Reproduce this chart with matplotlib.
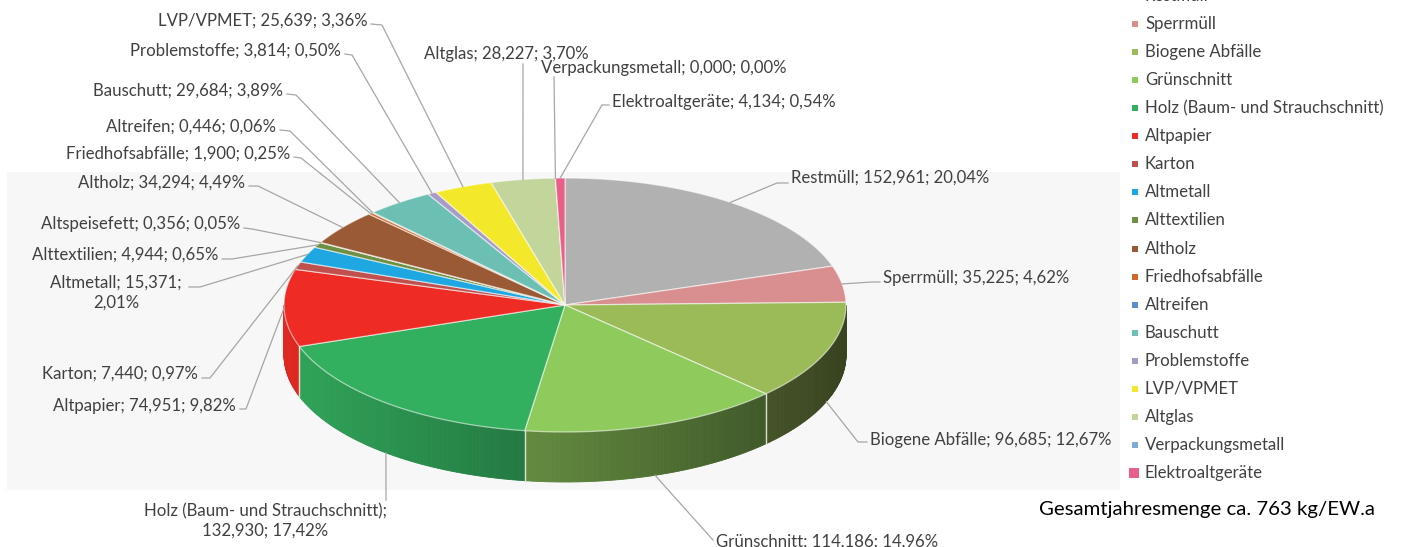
import numpy as np
import matplotlib
matplotlib.use("Agg")
import matplotlib.pyplot as plt
from matplotlib.patches import Polygon, Rectangle
import matplotlib.colors as mcolors

# ---------------- data ----------------
categories = ["Restmüll", "Sperrmüll", "Biogene Abfälle", "Grünschnitt",
              "Holz (Baum- und Strauchschnitt)", "Altpapier", "Karton", "Altmetall",
              "Alttextilien", "Altspeisefett", "Altholz", "Friedhofsabfälle", "Altreifen",
              "Bauschutt", "Problemstoffe", "LVP/VPMET", "Altglas", "Verpackungsmetall",
              "Elektroaltgeräte"]
values = [152.961, 35.225, 96.685, 114.186, 132.930, 74.951, 7.440, 15.371,
          4.944, 0.356, 34.294, 1.900, 0.446, 29.684, 3.814, 25.639, 28.227,
          0.000, 4.134]
colors = ["#b1b1b1", "#d98f8f", "#9bbb59", "#8fca5c", "#33b05f", "#ee2b24",
          "#c0504d", "#1ea7e1", "#6f8f45", "#c9b458", "#9a5a35", "#d2692b",
          "#5b8fc7", "#6cc0b3", "#a89bc8", "#f3e92a", "#c2d59b", "#7fabd8",
          "#e8608a"]
legend_categories = ["Restmüll", "Sperrmüll", "Biogene Abfälle", "Grünschnitt",
                     "Holz (Baum- und Strauchschnitt)", "Altpapier", "Karton",
                     "Altmetall", "Alttextilien", "Altholz", "Friedhofsabfälle",
                     "Altreifen", "Bauschutt", "Problemstoffe", "LVP/VPMET",
                     "Altglas", "Verpackungsmetall", "Elektroaltgeräte"]
note_text = "Gesamtjahresmenge ca. 763 kg/EW.a"

# ---------------- layout ----------------
FONT = "Lato"
FS = 12.1
TXT = "#404040"
LINE = "#a6a6a6"
CX, CY, RX, RY, DEPTH = 565, 305, 281, 127, 50

# label layout: (x, y, ha, leader start, leader elbow)
label_layout = {
    "Restmüll": (791, 178, "left", (788, 183), (777, 183)),
    "Sperrmüll": (883, 278, "left", (880, 282), (872, 282)),
    "Biogene Abfälle": (870, 440, "left", (867, 442), (858, 442)),
    "Grünschnitt": (716, 542, "left", (713, 540), (713, 540)),
    "Holz (Baum- und Strauchschnitt)": (265, 511, "center2", (386, 500), (386, 500)),
    "Altpapier": (236, 406, "right", (240, 409), (246, 409)),
    "Karton": (198, 374, "right", (202, 378), (210, 378)),
    "Altmetall": (116, 283, "center1", (189, 287), (200, 287)),
    "Alttextilien": (218, 255, "right", (222, 259), (232, 259)),
    "Altspeisefett": (240, 224, "right", (244, 228), (252, 229)),
    "Altholz": (245, 183, "right", (249, 186), (258, 186)),
    "Friedhofsabfälle": (290, 154, "right", (294, 157), (301, 158)),
    "Altreifen": (276, 127, "right", (280, 130), (290, 131)),
    "Bauschutt": (283, 91, "right", (287, 94), (296, 95)),
    "Problemstoffe": (341, 51, "right", (345, 54), (352, 55)),
    "LVP/VPMET": (368, 21, "right", (371, 24), (382, 25)),
    "Altglas": (506, 54, "center", (523, 64), (523, 64)),
    "Verpackungsmetall": (664, 68, "center", (554, 77), (554, 77)),
    "Elektroaltgeräte": (612, 102, "left", (609, 105), (602, 105)),
}

fig = plt.figure(figsize=(14.02, 5.47), dpi=100)
ax = fig.add_axes([0, 0, 1, 1])
ax.set_xlim(0, 1402)
ax.set_ylim(547, 0)
ax.axis("off")

# plot-area background
ax.add_patch(Rectangle((7, 172), 1113, 318, facecolor="#f7f7f7", edgecolor="none", zorder=0))

total = sum(values)
fracs = [v / total for v in values]


def ell(theta_deg, dy=0.0):
    t = np.radians(theta_deg)
    return CX + RX * np.cos(t), CY - RY * np.sin(t) + dy


def shade(theta):
    phi = np.radians(theta + 180.0)
    return 0.36 + 0.58 * (1 + np.cos(phi)) / 2


# angles (clockwise from 12 o'clock)
starts, ends = [], []
a = 90.0
for f in fracs:
    starts.append(a)
    a -= 360.0 * f
    ends.append(a)

# side walls (front part: theta in [-180, 0])
for s, e, c in zip(starts, ends, colors):
    lo, hi = max(e, -180.0), min(s, 0.0)
    if hi <= lo:
        continue
    n = max(2, int((hi - lo) * 2))
    ts = np.linspace(hi, lo, n + 1)
    base = np.array(mcolors.to_rgb(c))
    for t1, t2 in zip(ts[:-1], ts[1:]):
        x1, y1 = ell(t1)
        x2, y2 = ell(t2)
        col = np.clip(base * shade((t1 + t2) / 2), 0, 1)
        ax.add_patch(Polygon([(x1, y1), (x2, y2), (x2, y2 + DEPTH), (x1, y1 + DEPTH)],
                             closed=True, facecolor=col, edgecolor=col, linewidth=0.6, zorder=2))
    for t in (s, e):
        if -180 < t < 0:
            x, y = ell(t)
            ax.plot([x, x], [y, y + DEPTH], color="#dfe8d8", lw=0.9, alpha=0.8, zorder=3)

# top faces
for s, e, c in zip(starts, ends, colors):
    ts = np.linspace(s, e, max(2, int(abs(s - e) * 2) + 2))
    pts = [(CX, CY)] + [ell(t) for t in ts]
    ax.add_patch(Polygon(pts, closed=True, facecolor=c, edgecolor=(1, 1, 1, 0.55),
                         linewidth=0.9, joinstyle="round", zorder=4))


def fmt(v):
    return f"{v:.3f}".replace(".", ",")


def fmtp(p):
    return f"{p:.2f}".replace(".", ",") + "%"


# labels + leaders
for cat, v, f, s, e in zip(categories, values, fracs, starts, ends):
    x, y, ha, st, el = label_layout[cat]
    mid = (s + e) / 2
    px, py = ell(mid)
    if np.sin(np.radians(mid)) < -0.3:
        py += DEPTH
    if ha == "center2":
        lines = [f"{cat};", f"{fmt(v)}; {fmtp(100 * f)}"]
    elif ha == "center1":
        lines = [f"{cat}; {fmt(v)};", fmtp(100 * f)]
    else:
        lines = [f"{cat}; {fmt(v)}; {fmtp(100 * f)}"]
    if len(lines) > 1:
        for i, ln in enumerate(lines):
            ax.text(x, y + i * 19.5, ln, ha="center", va="center", fontsize=FS,
                    family=FONT, color=TXT, zorder=6)
    else:
        ax.text(x, y, lines[0], ha=ha, va="center", fontsize=FS, family=FONT,
                color=TXT, zorder=6)
    ax.plot([st[0], el[0], px], [st[1], el[1], py], color=LINE, lw=0.9, zorder=5,
            solid_joinstyle="miter")

# legend (manual, clipped at top like the reference)
LX, LY0, LDY = 1135, -4, 28.06
for i, cat in enumerate(legend_categories):
    c = colors[categories.index(cat)]
    yy = LY0 + i * LDY
    sz = 10 if cat == "Elektroaltgeräte" else 6
    ax.add_patch(Rectangle((LX - sz / 2 - (1 if sz > 6 else 0), yy - sz / 2), sz, sz,
                           facecolor=c, edgecolor="none", zorder=6))
    ax.text(1145, yy, cat, ha="left", va="center", fontsize=FS, family=FONT,
            color=TXT, zorder=6)

ax.text(1039, 510, note_text, ha="left", va="center", fontsize=14.7, family=FONT,
        color="#000000", zorder=6)

fig.savefig("out.png", dpi=100)
